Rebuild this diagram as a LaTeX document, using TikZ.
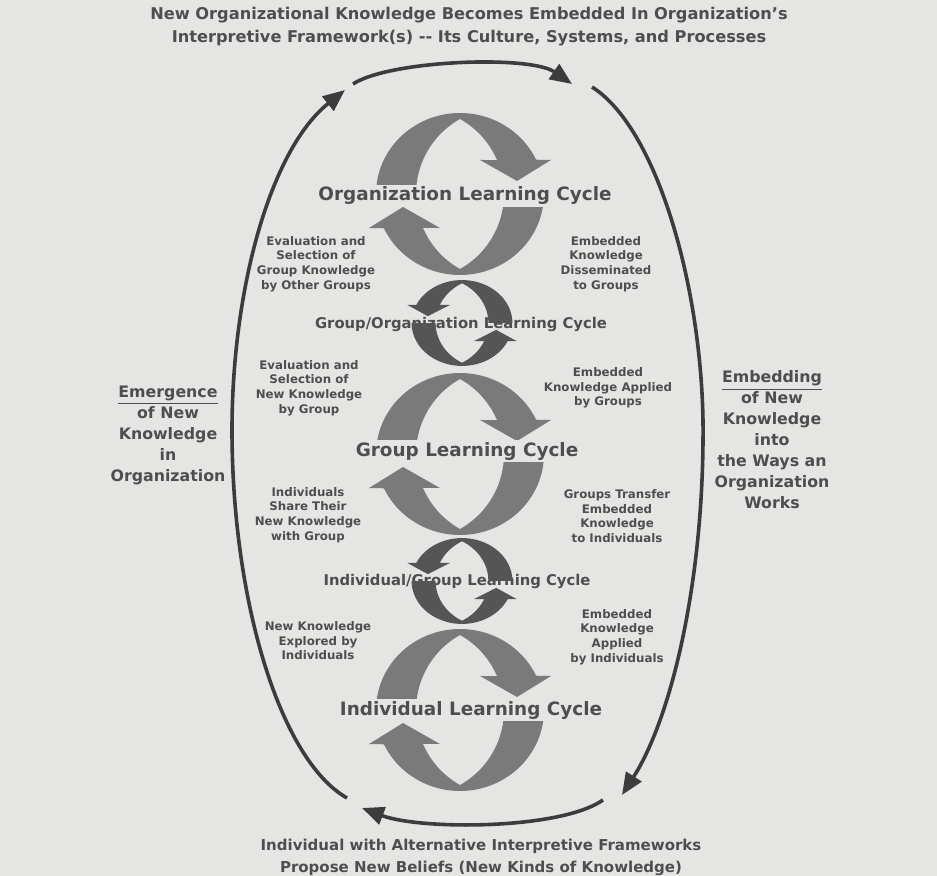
\documentclass[tikz,border=0pt]{standalone}
\usepackage{fontspec}
\setmainfont{DejaVu Sans}
\usetikzlibrary{arrows.meta}
\definecolor{paper}{HTML}{E5E5E3}
\definecolor{ink}{HTML}{4E4E4E}
\definecolor{loopink}{HTML}{3C3C3C}
\definecolor{bigarrow}{HTML}{7A7A7A}
\definecolor{smallarrow}{HTML}{555555}
\tikzset{
  % one half of a learning cycle: outer rim over the top, the inner edge follows a
  % pointed lens, so the band is thick at the side and thin at the top; flat head
  halfcycle/.pic={
    \fill[pic actions]
      plot[domain=0:1,samples=48,variable=\s] ({84*cos(180-155*\s)},{-81*sin(180-155*\s)})
      -- (91,-34) -- (57,-13) -- (20,-34)
      -- plot[domain=0:1,samples=24,variable=\s] ({-41.9+85.9*cos(23.3+37.5*\s)},{-85.9*sin(23.3+37.5*\s)})
      -- plot[domain=0:1,samples=36,variable=\s] ({41.9-85.9*cos(60.8-60.8*\s)},{-85.9*sin(60.8-60.8*\s)})
      -- cycle;
  },
  titletext/.style={font=\fontsize{8.1}{11.5}\selectfont\bfseries, text=ink, align=center, inner sep=0pt},
  cyclelabel/.style={font=\fontsize{9.2}{11}\selectfont\bfseries, text=ink, fill=paper, inner sep=1pt},
  minilabel/.style={font=\fontsize{7.4}{9}\selectfont\bfseries, text=ink, inner sep=0pt},
  steplabel/.style={font=\fontsize{5.9}{7.3}\selectfont\bfseries, text=ink, align=center, inner sep=0pt},
  sidelabel/.style={font=\fontsize{7.9}{10.5}\selectfont\bfseries, text=ink, align=center, inner sep=0pt},
  loopline/.style={draw=loopink, line width=1.8pt, -{Triangle[length=11pt,width=9pt]}},
}
\begin{document}
\begin{tikzpicture}[x=0.5pt,y=-0.5pt]
  \useasboundingbox[fill=paper] (0,0) rectangle (937,876);

  % headings
  \node[titletext] (top) at (469,26.5) {New Organizational Knowledge Becomes Embedded In Organization's\\Interpretive Framework(s) {-}{-} Its Culture, Systems, and Processes};
  \node[titletext, font=\fontsize{7.5}{11}\selectfont\bfseries] (bottom) at (481,857) {Individual with Alternative Interpretive Frameworks\\Propose New Beliefs (New Kinds of Knowledge)};

  % large cycles
  \foreach \cy in {194,454,710}{
    \pic[fill=bigarrow] at (460,\cy) {halfcycle};
    \pic[fill=bigarrow, rotate=180] at (460,\cy) {halfcycle};
  }
  \node[cyclelabel] (orgcycle) at (465,196) {Organization Learning Cycle};
  \node[cyclelabel] (grpcycle) at (467,451) {Group Learning Cycle};
  \node[cyclelabel] (indcycle) at (471,710) {Individual Learning Cycle};

  % small linking cycles, drawn over their labels
  \node[minilabel] (grporg) at (461,324) {Group/Organization Learning Cycle};
  \node[minilabel] (indgrp) at (457,581) {Individual/Group Learning Cycle};
  \foreach \cy in {323,581}{
    \pic[fill=smallarrow, xscale=-0.6, yscale=0.53] at (462,\cy) {halfcycle};
    \pic[fill=smallarrow, xscale=-0.6, yscale=0.53, rotate=180] at (462,\cy) {halfcycle};
  }

  % step descriptions
  \node[steplabel] (s1) at (316,264) {Evaluation and\\Selection of\\Group Knowledge\\by Other Groups};
  \node[steplabel] (s2) at (606,264) {Embedded\\Knowledge\\Disseminated\\to Groups};
  \node[steplabel] (s3) at (309,388) {Evaluation and\\Selection of\\New Knowledge\\by Group};
  \node[steplabel] (s4) at (608,388) {Embedded\\Knowledge Applied\\by Groups};
  \node[steplabel] (s5) at (308,515) {Individuals\\Share Their\\New Knowledge\\with Group};
  \node[steplabel] (s6) at (617,516) {Groups Transfer\\Embedded\\Knowledge\\to Individuals};
  \node[steplabel] (s7) at (318,641) {New Knowledge\\Explored by\\Individuals};
  \node[steplabel] (s8) at (617,637) {Embedded\\Knowledge\\Applied\\by Individuals};

  % side captions
  \node[sidelabel] (emerge) at (168,435) {\underline{Emergence}\\of New\\Knowledge\\in\\Organization};
  \node[sidelabel] (embed) at (772,440) {\underline{Embedding}\\of New\\Knowledge\\into\\the Ways an\\Organization\\Works};

  % outer loop
  \coordinate (la) at (347,798);
  \coordinate (lm) at (232,430);
  \coordinate (lb) at (345,90);
  \coordinate (ta) at (353,84);
  \coordinate (tb) at (572,84);
  \coordinate (ra) at (592,87);
  \coordinate (rm) at (703,440);
  \coordinate (rb) at (622,795);
  \coordinate (ba) at (603,800);
  \coordinate (bb) at (362,808);
  \draw[loopline] (la) .. controls (280,760) and (232,600) .. (lm) .. controls (232,290) and (270,150) .. (lb);
  \draw[loopline] (ta) .. controls (390,60) and (530,55) .. (tb);
  \draw[loopline] (ra) .. controls (660,130) and (705,300) .. (rm) .. controls (702,590) and (670,720) .. (rb);
  \draw[loopline] (ba) .. controls (560,830) and (420,830) .. (bb);
\end{tikzpicture}
\end{document}
